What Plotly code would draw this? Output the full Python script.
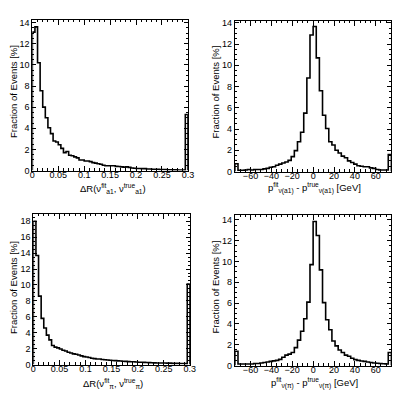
import numpy as np
import plotly.graph_objects as go

W, H = 415, 399

# ---------------- data (fractions of events in %) ----------------
dr_lo, dr_hi, dr_nbins = 0.0, 0.3, 60
p_lo, p_hi, p_nbins = -75.0, 75.0, 50

dr_a1 = [13.1, 13.6, 10.2, 7.55, 6.0, 5.0, 4.05, 3.5, 2.8, 2.7,
         2.45, 2.1, 1.7, 1.8, 1.45, 1.4, 1.3, 1.2, 1.0, 1.0,
         0.9, 0.9, 0.85, 0.75, 0.7, 0.65, 0.6, 0.5, 0.45, 0.45,
         0.45, 0.45, 0.4, 0.38, 0.35, 0.33, 0.35, 0.3, 0.25, 0.22,
         0.2, 0.2, 0.18, 0.18, 0.15, 0.15, 0.13, 0.12, 0.12, 0.1,
         0.1, 0.1, 0.08, 0.08, 0.07, 0.07, 0.06, 0.06, 0.05, 5.3]

dp_a1 = [0.74, 0.12, 0.12, 0.15, 0.2, 0.15, 0.2, 0.2, 0.2, 0.25,
         0.3, 0.4, 0.45, 0.6, 0.7, 0.8, 0.9, 1.05, 1.4, 1.97,
         2.8, 3.7, 5.5, 8.8, 12.85, 13.65, 10.7, 7.6, 5.3, 4.05,
         2.8, 2.5, 2.0, 1.75, 1.45, 1.3, 1.0, 0.85, 0.7, 0.55,
         0.5, 0.45, 0.45, 0.35, 0.3, 0.2, 0.15, 0.15, 0.15, 1.6]

dr_pi = [18.0, 13.7, 8.6, 5.8, 4.6, 3.7, 3.1, 2.4, 2.2, 2.1,
         1.95, 1.8, 1.7, 1.55, 1.45, 1.35, 1.3, 1.2, 1.1, 1.0,
         0.95, 0.9, 0.8, 0.75, 0.7, 0.7, 0.65, 0.6, 0.58, 0.55,
         0.52, 0.5, 0.47, 0.45, 0.42, 0.4, 0.38, 0.36, 0.35, 0.33,
         0.3, 0.3, 0.28, 0.26, 0.25, 0.24, 0.22, 0.2, 0.2, 0.2,
         0.2, 0.18, 0.18, 0.16, 0.15, 0.15, 0.14, 0.13, 0.12, 10.1]

dp_pi = [1.38, 0.15, 0.15, 0.15, 0.15, 0.15, 0.2, 0.2, 0.25, 0.3,
         0.35, 0.4, 0.45, 0.5, 0.6, 0.8, 1.0, 1.1, 1.25, 1.73,
         2.45, 3.3, 4.5, 6.1, 9.7, 13.85, 12.5, 9.2, 6.05, 4.4,
         3.45, 2.36, 1.89, 1.5, 1.26, 1.0, 0.9, 0.7, 0.57, 0.5,
         0.44, 0.4, 0.35, 0.3, 0.25, 0.22, 0.2, 0.18, 0.15, 1.25]

ytitle = "Fraction of Events [%]"
xtitles = [
    "ΔR(ν<sup>fit</sup><sub>a1</sub>, ν<sup>true</sup><sub>a1</sub>)",
    "p<sup>fit</sup><sub>ν(a1)</sub> - p<sup>true</sup><sub>ν(a1)</sub> [GeV]",
    "ΔR(ν<sup>fit</sup><sub>π</sub>, ν<sup>true</sup><sub>π</sub>)",
    "p<sup>fit</sup><sub>ν(π)</sub> - p<sup>true</sup><sub>ν(π)</sub> [GeV]",
]

# ---------------- layout helpers ----------------
def px_x(v):
    return v / W

def px_y(v):
    return 1 - v / H

panels = [
    dict(box=(30, 189, 17, 171), vals=dr_a1, rng=(dr_lo, dr_hi, dr_nbins), ymax=14.28,
         dtick=0.05, minor=0.01, yt=(10, 90), xt=(112, 189)),
    dict(box=(237, 397, 18, 172), vals=dp_a1, rng=(p_lo, p_hi, p_nbins), ymax=14.2,
         dtick=20, minor=5, yt=(217, 91), xt=(318, 189)),
    dict(box=(31, 191, 215, 369), vals=dr_pi, rng=(dr_lo, dr_hi, dr_nbins), ymax=18.95,
         dtick=0.05, minor=0.01, yt=(10, 290), xt=(112, 388)),
    dict(box=(237, 397, 216, 370), vals=dp_pi, rng=(p_lo, p_hi, p_nbins), ymax=14.5,
         dtick=20, minor=5, yt=(217, 290), xt=(318, 388)),
]

font = "Liberation Sans, Arial, Helvetica, sans-serif"
fig = go.Figure()
annotations = []

for i, p in enumerate(panels):
    n = i + 1
    xa = "x" if n == 1 else f"x{n}"
    ya = "y" if n == 1 else f"y{n}"
    lo, hi, nb = p["rng"]
    edges = np.linspace(lo, hi, nb + 1)
    vals = list(p["vals"])
    xs = [edges[0]] + list(edges) + [edges[-1]]
    ys = [0.0] + vals + [vals[-1], 0.0]
    fig.add_trace(go.Scatter(
        x=xs, y=ys, mode="lines", line=dict(color="black", width=1.6, shape="hv"),
        xaxis=xa, yaxis=ya, showlegend=False, hoverinfo="skip"))

    x0, x1, y0, y1 = p["box"]
    axis_common = dict(
        showgrid=False, zeroline=False, showline=True, linecolor="black", linewidth=1,
        mirror="ticks", ticks="inside", tickcolor="black", tickwidth=1,
        tickfont=dict(family=font, size=9, color="black"),
    )
    fig.layout[xa.replace("x", "xaxis")] = dict(
        domain=[px_x(x0), px_x(x1)], range=[lo, hi], anchor=ya,
        dtick=p["dtick"], tick0=0, ticklen=5, ticklabelstandoff=-4,
        minor=dict(dtick=p["minor"], ticklen=2.5, ticks="inside", tickcolor="black", tickwidth=1, tick0=0),
        **axis_common)
    fig.layout[ya.replace("y", "yaxis")] = dict(
        domain=[px_y(y1), px_y(y0)], range=[0, p["ymax"]], anchor=xa,
        dtick=2, tick0=0, ticklen=4,
        minor=dict(dtick=0.5, ticklen=2, ticks="inside", tickcolor="black", tickwidth=1, tick0=0),
        **axis_common)

    annotations.append(dict(
        text=ytitle, textangle=-90, xref="paper", yref="paper",
        x=px_x(p["yt"][0]), y=px_y(p["yt"][1]), xanchor="center", yanchor="middle",
        showarrow=False, font=dict(family=font, size=9.5, color="black")))
    annotations.append(dict(
        text=xtitles[i], xref="paper", yref="paper",
        x=px_x(p["xt"][0]), y=px_y(p["xt"][1]), xanchor="center", yanchor="middle",
        showarrow=False, font=dict(family=font, size=9.5, color="black")))

fig.update_layout(
    width=W, height=H, margin=dict(l=0, r=0, t=0, b=0),
    paper_bgcolor="white", plot_bgcolor="white",
    annotations=annotations,
)

fig.write_html("out.html", config={"displayModeBar": False},
               post_script="document.body.style.margin='0';")
